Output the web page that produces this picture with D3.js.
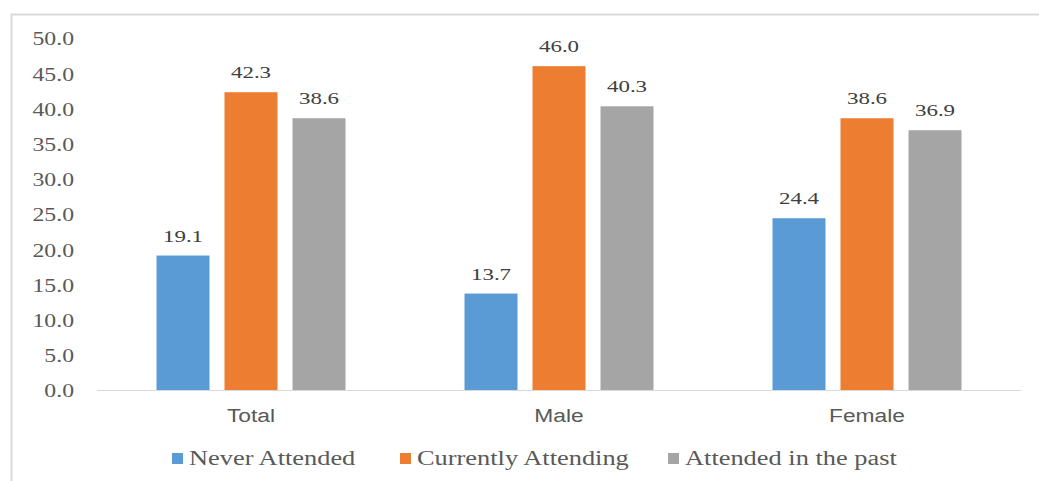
<!DOCTYPE html>
<html>
<head>
<meta charset="utf-8">
<script src="https://cdn.jsdelivr.net/npm/d3@7"></script>
<style>
  html, body { margin: 0; padding: 0; background: #fff; }
  svg { display: block; }
</style>
</head>
<body>
<svg id="chart" width="1039" height="481"></svg>
<script>
// School attendance status by sex (percent)
const categories = ["Total", "Male", "Female"];
const seriesNames = ["Never Attended", "Currently Attending", "Attended in the past"];
const neverAttended = [19.1, 13.7, 24.4];
const currentlyAttending = [42.3, 46.0, 38.6];
const attendedPast = [38.6, 40.3, 36.9];
const yTicks = [0, 5, 10, 15, 20, 25, 30, 35, 40, 45, 50];

const seriesValues = [neverAttended, currentlyAttending, attendedPast];
const colors = ["#5b9bd5", "#ed7d31", "#a5a5a5"];

const SERIF = "Liberation Serif, Times New Roman, serif";
const SANS = "Liberation Sans, Arial, sans-serif";

const svg = d3.select("#chart");
const W = 1039, H = 481;

// outer chart-area frame
svg.append("rect")
  .attr("x", 11.5).attr("y", 14.5)
  .attr("width", W + 10).attr("height", H + 10)
  .attr("fill", "none").attr("stroke", "#d9d9d9").attr("stroke-width", 2);

const plot = { left: 97, right: 1021, top: 38, bottom: 390 };

const y = d3.scaleLinear().domain([0, 50]).range([plot.bottom, plot.top]);
const x0 = d3.scaleBand().domain(categories).range([plot.left, plot.right]);

// bars within a category: width 53, step 68
const barW = 53, barStep = 68;
const groupW = barW * 3 + (barStep - barW) * 2;
const x1 = d3.scaleBand().domain(seriesNames)
  .range([0, groupW])
  .paddingInner((barStep - barW) / barStep).paddingOuter(0);

// y axis labels (wide-set serif digits)
const yAxis = d3.axisLeft(y).tickValues(yTicks).tickFormat(d3.format(".1f")).tickSize(0).tickPadding(0);
const gy = svg.append("g").attr("transform", `translate(${74},0)`).call(yAxis);
gy.select(".domain").remove();
gy.selectAll("text")
  .attr("x", 0).attr("dy", "0.38em")
  .attr("transform", "scale(1.32,1)")
  .attr("font-family", SERIF)
  .attr("font-size", 18).attr("fill", "#595959");

// baseline
svg.append("line")
  .attr("x1", plot.left).attr("x2", plot.right)
  .attr("y1", y(0) + 0.5).attr("y2", y(0) + 0.5)
  .attr("stroke", "#d9d9d9").attr("stroke-width", 1);

// x axis labels
const xAxis = d3.axisBottom(x0).tickSize(0).tickPadding(0);
const gx = svg.append("g").attr("transform", `translate(0,${y(0) + 31.5})`).call(xAxis);
gx.select(".domain").remove();
gx.selectAll("text")
  .attr("y", 0).attr("dy", 0)
  .attr("transform", "scale(1.2,1)")
  .attr("font-family", SANS)
  .attr("font-size", 19).attr("fill", "#595959");

// bars
const groups = svg.append("g").selectAll("g")
  .data(categories)
  .join("g")
  .attr("transform", d => `translate(${x0(d) + (x0.bandwidth() - groupW) / 2},0)`);

const cells = (c, i) => seriesNames.map((s, k) => ({ s, k, v: seriesValues[k][i] }));

groups.selectAll("rect")
  .data(cells)
  .join("rect")
  .attr("x", d => x1(d.s))
  .attr("width", x1.bandwidth())
  .attr("y", d => y(d.v))
  .attr("height", d => y(0) - y(d.v))
  .attr("fill", d => colors[d.k]);

// value labels above bars
groups.selectAll("g.lbl")
  .data(cells)
  .join("g")
  .attr("class", "lbl")
  .attr("transform", d => `translate(${x1(d.s) + x1.bandwidth() / 2},${y(d.v) - 14}) scale(1.35,1)`)
  .append("text")
  .attr("text-anchor", "middle")
  .attr("font-family", SERIF)
  .attr("font-size", 17).attr("fill", "#404040")
  .text(d => d.v.toFixed(1));

// legend
const legendX = [172, 400, 668];
const lg = svg.append("g").selectAll("g")
  .data(seriesNames)
  .join("g")
  .attr("transform", (d, i) => `translate(${legendX[i]},0)`);
lg.append("rect").attr("y", 453).attr("width", 11).attr("height", 11).attr("fill", (d, i) => colors[i]);
lg.append("g")
  .attr("transform", "translate(17,465) scale(1.32,1)")
  .append("text")
  .attr("font-family", SERIF)
  .attr("font-size", 20).attr("fill", "#595959")
  .text(d => d);
</script>
</body>
</html>
